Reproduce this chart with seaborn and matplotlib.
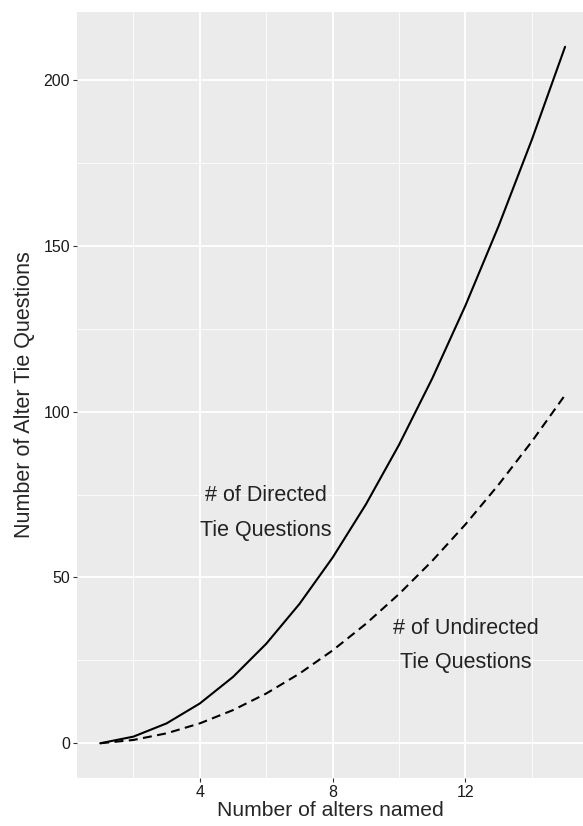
import pandas as pd
import numpy as np
import seaborn as sns
import matplotlib.pyplot as plt
from matplotlib.ticker import MultipleLocator

# number of alters named
alters = [1, 2, 3, 4, 5, 6, 7, 8, 9, 10, 11, 12, 13, 14, 15]
# directed tie questions
directed = [0, 2, 6, 12, 20, 30, 42, 56, 72, 90, 110, 132, 156, 182, 210]
# undirected tie questions
undirected = [0, 1, 3, 6, 10, 15, 21, 28, 36, 45, 55, 66, 78, 91, 105]

df = pd.DataFrame({
    "alters": alters * 2,
    "questions": directed + undirected,
    "type": ["Directed"] * len(alters) + ["Undirected"] * len(alters),
})

sns.set_theme(style="darkgrid", rc={
    "axes.facecolor": "#EBEBEB",
    "grid.color": "white",
})
plt.rcParams["font.family"] = ["Liberation Sans", "DejaVu Sans"]

fig = plt.figure(figsize=(5.83, 8.26), dpi=100)
ax = fig.add_axes([0.132, 0.058, 0.868, 0.9275])

sns.lineplot(data=df, x="alters", y="questions", style="type",
             dashes={"Directed": "", "Undirected": (4.3, 2.6)},
             color="black", linewidth=1.5, legend=False, ax=ax)

ax.set_xlim(0.3, 15.54)
ax.set_ylim(-10.5, 220.5)
ax.xaxis.set_major_locator(MultipleLocator(4))
ax.xaxis.set_minor_locator(MultipleLocator(2))
ax.yaxis.set_major_locator(MultipleLocator(50))
ax.yaxis.set_minor_locator(MultipleLocator(25))
ax.set_xticks([4, 8, 12])
ax.grid(which="major", color="white", linewidth=1.3)
ax.grid(which="minor", color="white", linewidth=0.6)
for s in ax.spines.values():
    s.set_visible(False)

ax.tick_params(which="major", length=3, width=0.8, color="#333333",
               labelsize=11.5, labelcolor="#1a1a1a", pad=2, left=True, bottom=True)
ax.tick_params(which="minor", length=0)

ax.set_xlabel("Number of alters named", fontsize=15.2, labelpad=1)
ax.set_ylabel("Number of Alter Tie Questions", fontsize=15.5, labelpad=6)

ax.text(6, 69.5, "# of Directed\nTie Questions", ha="center", va="center",
        fontsize=15.5, color="#222222", linespacing=1.85)
ax.text(12, 29.5, "# of Undirected\nTie Questions", ha="center", va="center",
        fontsize=15.5, color="#222222", linespacing=1.85)

plt.savefig("out.png", dpi=100)
